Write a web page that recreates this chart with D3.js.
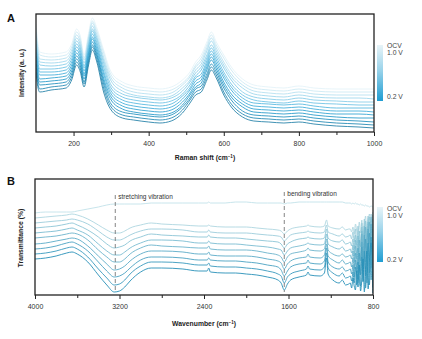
<!DOCTYPE html>
<html><head><meta charset="utf-8">
<script src="https://cdn.jsdelivr.net/npm/d3@7"></script>
<style>
html,body{margin:0;padding:0;background:#fff;}
svg{display:block;font-family:"Liberation Sans",Arial,sans-serif;}
</style></head><body>
<svg id="chart" width="422" height="339"></svg>
<script>
// ---------- Panel A: in-situ Raman spectra ----------
const ramanShift = [100,104,110,140,180,195,208,218,228,240,250,262,280,300,330,360,400,430,460,490,510,525,540,555,567,580,600,620,650,680,720,760,800,840,900,960,1000];
// index 0 = 0.2 V (darkest) ... last = OCV (palest)
const ramanSeries = [
  [60,47,40,42,44,52,67,60,45,67,82,70,40,22,14,12,10,9,11,19,29,37,40,52,62,54,37,25,15,11,10,9,10,8,6,5,4],
  [64,51,43,45,47,55,70,63,48,70,85,73,44,25,17,15,13,12,14,22,32,40,43,55,65,57,40,28,18,14,13,12,13,11,9,8,7],
  [68,55,47,48,50,58,73,66,50,72,87,76,48,28,20,18,16,15,17,25,34,43,46,58,68,60,44,32,21,17,16,15,16,14,12,11,10],
  [72,58,50,51,53,61,76,69,53,75,90,78,51,32,23,20,18,17,19,27,37,45,49,62,72,63,47,35,25,20,19,18,19,17,15,14,14],
  [76,62,53,54,56,64,79,72,56,78,93,81,54,35,26,23,21,20,22,30,39,48,52,65,75,66,50,38,28,23,22,21,22,20,18,18,17],
  [80,66,57,57,59,67,82,75,58,80,95,84,58,38,29,26,24,23,25,33,42,51,55,68,78,69,54,42,31,26,25,24,25,23,21,21,20],
  [84,70,60,60,62,70,85,78,61,83,98,87,61,41,32,29,27,26,28,36,44,54,58,71,81,72,57,45,34,29,28,27,28,26,24,24,24],
  [88,73,63,63,65,73,88,81,64,86,101,90,65,44,35,32,30,29,31,38,47,56,62,74,84,75,60,48,37,32,30,29,31,29,28,27,27],
  [92,77,67,66,68,76,91,84,66,88,103,93,69,47,38,35,33,32,34,41,50,59,65,77,87,78,64,52,40,35,33,32,34,32,31,30,30],
  [96,81,70,69,71,79,94,87,69,91,106,95,72,51,41,37,35,34,36,44,52,62,68,81,91,81,67,55,44,38,36,35,37,35,34,34,33],
  [100,85,73,72,74,82,97,90,72,94,109,98,75,54,44,40,38,37,39,47,55,65,71,84,94,84,70,58,47,41,39,38,40,38,37,37,37],
  [104,88,77,75,77,85,100,93,74,96,111,101,79,57,47,43,41,40,42,49,57,67,74,87,97,87,74,62,50,44,42,41,43,41,40,40,40],
  [108,92,80,78,80,88,103,96,77,99,114,104,82,60,50,46,44,43,45,52,60,70,77,90,100,90,77,65,53,47,45,44,46,44,43,43,43]
];
const ramanTicksMajor = [200,400,600,800,1000];
const ramanTicksMinor = [300,500,700,900];

// ---------- Panel B: in-situ FTIR spectra ----------
const irWavenumber = [4000,3900,3800,3700,3650,3600,3500,3400,3320,3250,3200,3150,3100,3000,2900,2800,2600,2450,2370,2355,2340,2200,2100,2000,1900,1800,1700,1670,1640,1610,1580,1500,1430,1415,1400,1300,1260,1240,1225,1180,1120,1090,1060,1030,
  1015,1002,990,978,966,954,942,930,918,906,894,882,870,858,846,834,818,802];
// index 0 = 0.2 V (darkest) ... last = 1.0 V
const irSeries = [
  [36,37,39,42,43,41,33,20,10,3,4,8,14,23,27,27,26,24,24,27,23,22,22,21,20,18,15,12,5,11,15,18,20,23,20,19,22,37,21,15,12,15,10,11,
   12,7,17,9,5,24,8,30,4,15,36,3,27,44,6,34,52,2],
  [41,42,44,47,48,46,38,26,17,10,11,15,21,29,33,33,32,30,30,32,29,28,28,27,26,24,21,19,12,18,21,24,26,29,26,25,28,42,27,22,19,22,17,18,
   19,14,23,12,28,10,33,15,9,38,13,44,7,30,52,10,58,8],
  [46,47,49,52,53,51,44,33,24,18,19,22,27,35,38,38,37,35,35,37,35,34,34,33,32,30,28,25,19,24,28,31,32,35,32,31,34,47,33,28,26,28,24,25,
   26,21,30,18,35,24,16,42,20,48,14,36,56,12,44,62,15,66],
  [51,52,54,56,57,56,49,39,31,25,26,29,34,41,44,44,43,41,41,43,40,39,39,39,38,36,34,32,26,31,34,37,38,41,38,37,40,51,39,35,32,35,31,32,
   33,28,37,26,42,23,47,30,21,53,27,60,19,48,66,22,71,20],
  [57,58,59,61,62,61,55,45,38,33,33,36,41,47,50,49,48,47,47,49,46,45,45,45,44,42,40,38,33,38,41,43,45,47,45,44,46,56,45,41,39,41,38,39,
   40,36,44,33,49,38,30,55,34,61,28,50,68,26,58,73,27,76],
  [62,63,64,66,67,65,60,51,44,40,40,43,47,52,55,55,54,52,52,54,52,51,51,50,49,48,46,45,40,44,47,49,51,52,51,50,51,61,51,48,46,48,44,45,
   46,42,50,39,55,36,59,44,35,64,40,69,33,56,73,37,78,34],
  [67,68,69,71,72,70,65,58,51,47,48,50,54,58,61,60,59,58,58,60,58,57,57,56,55,54,53,51,47,51,53,56,57,58,57,56,57,66,57,54,53,55,51,52,
   53,49,56,46,60,50,43,64,48,68,42,60,74,40,66,78,42,80],
  [72,73,74,75,76,75,71,64,58,55,55,57,60,64,66,66,65,63,63,65,63,62,62,62,61,60,59,58,54,57,60,62,63,64,63,62,63,70,63,61,59,61,58,59,
   60,56,63,53,66,50,69,57,49,72,54,76,47,65,79,51,81,48],
  [77,78,79,80,81,80,76,70,65,62,62,64,67,70,72,71,70,69,69,70,69,68,68,68,67,66,65,64,61,64,66,68,69,70,69,68,69,75,69,67,66,68,65,66,
   66,63,68,61,71,64,58,73,62,75,57,69,79,55,72,81,58,83]
];
const irOCV = [82,83,83,83,83,84,86,88,90,91,91,91,91,91,92,92,92,92,92,93,92,92,93,93,92,92,92,92,91,92,92,93,93,93,93,93,93,93,93,93,93,93,92,92,
   92,91,92,91,92,91,91,90,91,90,90,89,90,89,89,88,89,88];
const irTicksMajor = [4000,3200,2400,1600,800];
const irTicksMinor = [3600,2800,2000,1200];
const bandMarks = [
  {wavenumber: 3240, label: "stretching vibration", top: 195},
  {wavenumber: 1640, label: "bending vibration", top: 192}
];
const colorbarLabels = ["OCV", "1.0 V", "0.2 V"];

const svg = d3.select("#chart");
const defs = svg.append("defs");

// gradient used by both colour bars
const grad = defs.append("linearGradient").attr("id", "cbar")
  .attr("x1", 0).attr("x2", 0).attr("y1", 0).attr("y2", 1);
[["0%", "#e8f4f8"], ["45%", "#9ad3ea"], ["100%", "#1f9dd2"]].forEach(([o, c]) =>
  grad.append("stop").attr("offset", o).attr("stop-color", c));

function drawAxis(g, x, yBottom, major, minor) {
  const ax = g.append("g").attr("transform", `translate(0,${yBottom})`)
    .call(d3.axisBottom(x).tickValues(major).tickSize(4).tickPadding(5).tickFormat(d3.format("d")));
  ax.select(".domain").remove();
  ax.selectAll("line").attr("stroke", "#222").attr("stroke-width", 1);
  ax.selectAll("text").attr("font-size", 7).attr("fill", "#333")
    .attr("font-family", "'Liberation Sans',Arial,sans-serif");
  const mi = g.append("g").attr("transform", `translate(0,${yBottom})`)
    .call(d3.axisBottom(x).tickValues(minor).tickSize(3).tickFormat(""));
  mi.select(".domain").remove();
  mi.selectAll("line").attr("stroke", "#222").attr("stroke-width", 1);
}

function drawColorbar(g, x, y0, y1, labelYs) {
  g.append("rect").attr("x", x).attr("y", y0).attr("width", 6).attr("height", y1 - y0)
    .attr("fill", "url(#cbar)");
  colorbarLabels.forEach((t, i) =>
    g.append("text").attr("x", x + 10).attr("y", labelYs[i]).text(t)
      .attr("font-size", 6.8).attr("fill", "#444"));
}

function frame(g, x0, y0, x1, y1) {
  g.append("rect").attr("x", x0).attr("y", y0).attr("width", x1 - x0).attr("height", y1 - y0)
    .attr("fill", "none").attr("stroke", "#222").attr("stroke-width", 1.3);
}

// ---------------- Panel A ----------------
{
  const L = 36, R = 374, T = 14, B = 132;
  const x = d3.scaleLinear([100, 1000], [L, R]);
  const y = d3.scaleLinear([0, 118], [B, T]);
  const color = d3.scaleSequential(
    d3.interpolateRgbBasis(["#2a84aa", "#26a4d8", "#8ccfea", "#e4f3f8"]))
    .domain([0, ramanSeries.length - 1]);
  defs.append("clipPath").attr("id", "clipA").append("rect")
    .attr("x", L).attr("y", T).attr("width", R - L).attr("height", B - T);
  const g = svg.append("g");
  const line = d3.line().x((d, i) => x(ramanShift[i])).y(d => y(d)).curve(d3.curveMonotoneX);
  const lines = g.append("g").attr("clip-path", "url(#clipA)");
  for (let k = ramanSeries.length - 1; k >= 0; k--) {
    lines.append("path").attr("d", line(ramanSeries[k])).attr("fill", "none")
      .attr("stroke", color(k)).attr("stroke-width", 0.9);
  }
  frame(g, L, T, R, B);
  drawAxis(g, x, B, ramanTicksMajor, ramanTicksMinor);
  g.append("text").attr("x", (L + R) / 2).attr("y", 160).attr("text-anchor", "middle")
    .attr("font-size", 6.8).attr("font-weight", "bold").attr("fill", "#222")
    .html("Raman shift (cm<tspan baseline-shift='super' font-size='4.5'>−1</tspan>)");
  g.append("text").attr("transform", `translate(24,${(T + B) / 2}) rotate(-90)`)
    .attr("text-anchor", "middle").attr("font-size", 6.8).attr("font-weight", "bold")
    .attr("fill", "#222").text("Intensity (a. u.)");
  g.append("text").attr("x", 7).attr("y", 22).attr("font-size", 11).attr("font-weight", "bold")
    .attr("fill", "#111").text("A");
  drawColorbar(g, 377, 45, 101, [48, 54.5, 99]);
}

// ---------------- Panel B ----------------
{
  const L = 35, R = 373, T = 179, B = 295;
  const x = d3.scaleLinear([4000, 800], [L, R]);
  const y = d3.scaleLinear([0, 116], [B, T]);
  const color = d3.scaleSequential(d3.interpolateRgb("#2790b8", "#aed6e0"))
    .domain([0, irSeries.length - 1]);
  defs.append("clipPath").attr("id", "clipB").append("rect")
    .attr("x", L).attr("y", T).attr("width", R - L).attr("height", B - T);
  const g = svg.append("g");
  const line = d3.line().x((d, i) => x(irWavenumber[i])).y(d => y(d)).curve(d3.curveMonotoneX);
  const lines = g.append("g").attr("clip-path", "url(#clipB)");
  lines.append("path").attr("d", line(irOCV)).attr("fill", "none")
    .attr("stroke", "#c8e5ec").attr("stroke-width", 1);
  for (let k = irSeries.length - 1; k >= 0; k--) {
    lines.append("path").attr("d", line(irSeries[k])).attr("fill", "none")
      .attr("stroke", color(k)).attr("stroke-width", 0.9);
  }
  bandMarks.forEach(b => {
    g.append("line").attr("x1", x(b.wavenumber)).attr("x2", x(b.wavenumber))
      .attr("y1", b.top).attr("y2", B - 3).attr("stroke", "#666")
      .attr("stroke-width", 0.8).attr("stroke-dasharray", "4,3");
    g.append("text").attr("x", x(b.wavenumber) + 3).attr("y", b.top + 4)
      .attr("font-size", 6.5).attr("fill", "#333").text(b.label);
  });
  frame(g, L, T, R, B);
  drawAxis(g, x, B, irTicksMajor, irTicksMinor);
  g.append("text").attr("x", (L + R) / 2).attr("y", 326).attr("text-anchor", "middle")
    .attr("font-size", 6.8).attr("font-weight", "bold").attr("fill", "#222")
    .html("Wavenumber (cm<tspan baseline-shift='super' font-size='4.5'>−1</tspan>)");
  g.append("text").attr("transform", `translate(23,${(T + B) / 2 + 1}) rotate(-90)`)
    .attr("text-anchor", "middle").attr("font-size", 6.8).attr("font-weight", "bold")
    .attr("fill", "#222").text("Transmittance (%)");
  g.append("text").attr("x", 7).attr("y", 185).attr("font-size", 11).attr("font-weight", "bold")
    .attr("fill", "#111").text("B");
  drawColorbar(g, 377, 207, 262, [211, 217.5, 262]);
}
</script>
</body></html>
